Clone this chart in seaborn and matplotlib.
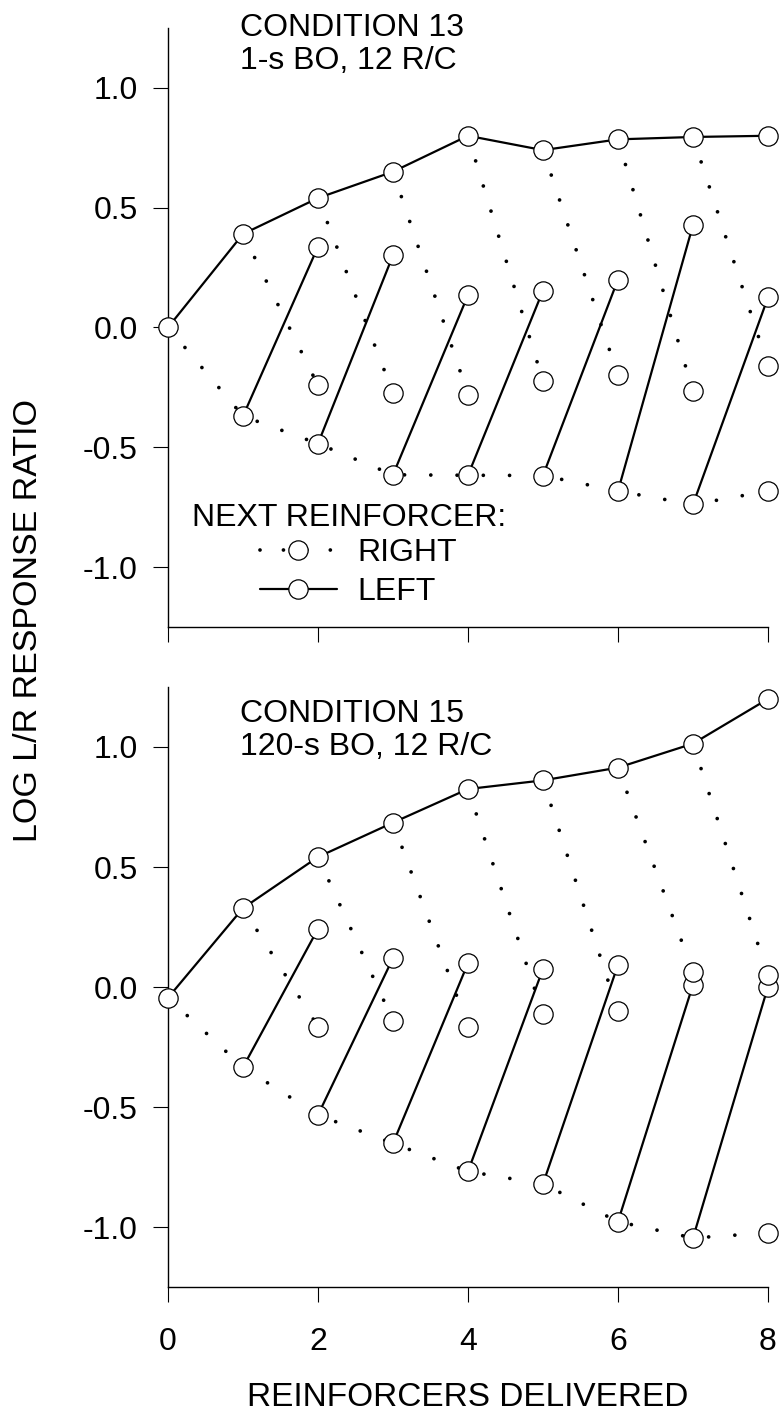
import numpy as np
import pandas as pd
import matplotlib
matplotlib.use("Agg")
import matplotlib.pyplot as plt
from matplotlib.lines import Line2D
import seaborn as sns

# Reinforcers delivered in a component
steps = [0, 1, 2, 3, 4, 5, 6, 7, 8]

# Condition 13 (1-s BO, 12 R/C): log L/R response ratios
c13_left_run = [0.00, 0.39, 0.54, 0.65, 0.80, 0.74, 0.785, 0.795, 0.80]
c13_right_run = [0.00, -0.37, -0.485, -0.615, -0.617, -0.618, -0.683, -0.739, -0.683]
# after a run of lefts ended by one right (steps 2..8)
c13_left_then_right = [-0.242, -0.273, -0.280, -0.224, -0.200, -0.266, -0.159]
# after a run of rights ended by one left (steps 2..8)
c13_right_then_left = [0.337, 0.301, 0.135, 0.154, 0.200, 0.427, 0.125]

# Condition 15 (120-s BO, 12 R/C)
c15_left_run = [-0.044, 0.329, 0.542, 0.685, 0.825, 0.861, 0.914, 1.014, 1.20]
c15_right_run = [-0.044, -0.333, -0.532, -0.650, -0.767, -0.819, -0.976, -1.044, -1.023]
c15_left_then_right = [-0.164, -0.139, -0.164, -0.111, -0.100, 0.063, 0.050]
c15_right_then_left = [0.243, 0.121, 0.100, 0.076, 0.093, 0.010, 0.002]

panel_titles = [("CONDITION 13", "1-s BO, 12 R/C"), ("CONDITION 15", "120-s BO, 12 R/C")]
y_ticks = [-1.0, -0.5, 0.0, 0.5, 1.0]
x_ticks = [0, 2, 4, 6, 8]

sns.set_style("ticks")
plt.rcParams["font.family"] = ["Liberation Sans", "DejaVu Sans"]
plt.rcParams["axes.unicode_minus"] = False
for key in ("text.color", "axes.labelcolor", "xtick.color", "ytick.color", "axes.edgecolor"):
    plt.rcParams[key] = "black"

DOT_LW = 2.7
DOTTED = (0, (0.001, 7.0))
SOLID_LW = 1.6
MS = 13.9
FS = 23


def build_frames(left_run, right_run, l_then_r, r_then_l):
    solid, dotted = [], []
    for k in steps:
        solid.append(("Lrun", steps[k], left_run[k]))
        dotted.append(("Rrun", steps[k], right_run[k]))
    for k in steps[1:-1]:
        solid.append((f"RL{k}", steps[k], right_run[k]))
        solid.append((f"RL{k}", steps[k + 1], r_then_l[k - 1]))
        dotted.append((f"LR{k}", steps[k], left_run[k]))
        dotted.append((f"LR{k}", steps[k + 1], l_then_r[k - 1]))
    solid = pd.DataFrame(solid, columns=["seg", "x", "y"])
    dotted = pd.DataFrame(dotted, columns=["seg", "x", "y"])
    points = pd.concat([solid[["x", "y"]], dotted[["x", "y"]]]).drop_duplicates()
    return solid, dotted, points


fig = plt.figure(figsize=(7.81, 14.12), dpi=100)
ax_top = fig.add_axes([0.2151, 0.5560, 0.7682, 0.4242])
ax_bot = fig.add_axes([0.2151, 0.0882, 0.7682, 0.4253])

panels = [
    (ax_top, c13_left_run, c13_right_run, c13_left_then_right, c13_right_then_left),
    (ax_bot, c15_left_run, c15_right_run, c15_left_then_right, c15_right_then_left),
]

for i, (ax, lrun, rrun, lr, rl) in enumerate(panels):
    solid, dotted, points = build_frames(lrun, rrun, lr, rl)
    sns.lineplot(data=solid, x="x", y="y", units="seg", estimator=None, sort=False,
                 color="black", lw=SOLID_LW, ax=ax, legend=False)
    sns.lineplot(data=dotted, x="x", y="y", units="seg", estimator=None, sort=False,
                 color="black", lw=DOT_LW, linestyle=DOTTED, dash_capstyle="round",
                 ax=ax, legend=False)
    sns.scatterplot(data=points, x="x", y="y", s=MS ** 2, color="white",
                    edgecolor="black", linewidth=0.9, zorder=4, ax=ax, legend=False)
    ax.collections[-1].set_clip_on(False)

    ax.set_xlim(0, 8)
    ax.set_ylim(-1.25, 1.25)
    ax.set_yticks(y_ticks)
    ax.set_yticklabels([f"{v:.1f}" for v in y_ticks])
    ax.set_xticks(x_ticks)
    ax.set_xlabel("")
    ax.set_ylabel("")
    sns.despine(ax=ax)
    for side in ("left", "bottom"):
        ax.spines[side].set_linewidth(1.0)
        ax.spines[side].set_color("black")
    ax.tick_params(axis="both", direction="out", length=10.8, width=0.8,
                   labelsize=FS, colors="black")
    ax.tick_params(axis="y", pad=11)
    ax.tick_params(axis="x", pad=18)

    t1, t2 = panel_titles[i]
    if i == 0:
        y1, y2 = 1.216, 1.077
    else:
        y1, y2 = 1.104, 0.966
    ax.text(0.96, y1, t1, fontsize=FS, ha="left", va="baseline")
    ax.text(0.96, y2, t2, fontsize=FS, ha="left", va="baseline")

ax_top.tick_params(axis="x", labelbottom=False)
ax_bot.set_xticklabels([str(v) for v in x_ticks])

# legend for the top panel
ax_top.text(0.316, -0.829, "NEXT REINFORCER:", fontsize=FS, ha="left", va="baseline")
handles = [
    Line2D([], [], color="black", lw=DOT_LW, linestyle=(0, (0.001, 6.25)),
           dash_capstyle="round", marker="o", ms=MS, mfc="white", mec="black", mew=0.9),
    Line2D([], [], color="black", lw=SOLID_LW, marker="o", ms=MS,
           mfc="white", mec="black", mew=0.9),
]
ax_top.legend(handles, ["RIGHT", "LEFT"], loc="upper left",
              bbox_to_anchor=(0.153, 0.148), frameon=False, fontsize=FS,
              handlelength=2.41, handletextpad=0.66, labelspacing=0.27,
              borderpad=0, borderaxespad=0, numpoints=1)

fig.text(0.599, 1 - 1406 / 1412, "REINFORCERS DELIVERED", fontsize=24,
         ha="center", va="baseline")
fig.text(28.5 / 781, 1 - 620 / 1412, "LOG L/R RESPONSE RATIO", fontsize=24.5,
         rotation=90, ha="center", va="center")

fig.savefig("out.png", dpi=100)
